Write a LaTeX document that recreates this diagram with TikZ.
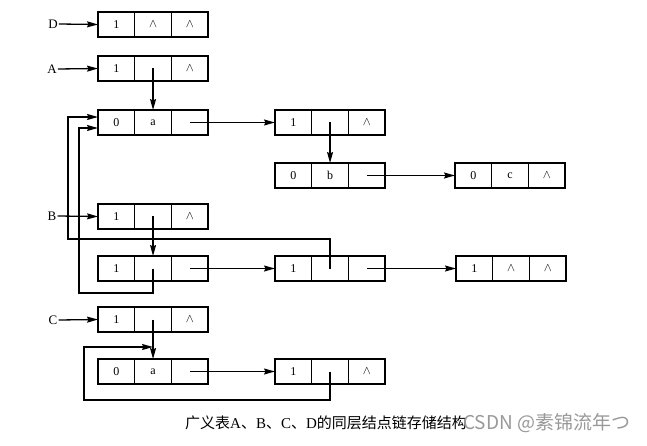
\documentclass[tikz,border=0pt]{standalone}
\usepackage{fontspec}
\setmainfont{Liberation Serif}
\newfontfamily\cjk{Noto Sans CJK SC}
\usetikzlibrary{arrows.meta,calc}
\newcommand\mkrec[6]{%
  \node[cell,anchor=north west] (#1-1) at (#2pt,-#3pt) {#4};
  \node[cell,anchor=west] (#1-2) at (#1-1.east) {#5};
  \node[cell,anchor=west] (#1-3) at (#1-2.east) {#6};
}
\newcommand\nil{\raisebox{0.5pt}{$\wedge$}}
\begin{document}
\begin{tikzpicture}[
  cell/.style={draw,line width=1.4pt,minimum width=36.7pt,minimum height=25pt,inner sep=0pt,outer sep=0pt,font=\fontsize{12}{13}\selectfont},
  lbl/.style={inner sep=1pt,font=\fontsize{13}{14}\selectfont},
  arr/.style={line width=1.3pt,-{Stealth[length=11pt,width=6pt,inset=1.5pt]}},
  ln/.style={line width=1.3pt}
]
\useasboundingbox (0,0) rectangle (647pt,-446pt);
\fill[white] (0,0) rectangle (647pt,-446pt);

% records
\mkrec{R1}{98}{12}{1}{\nil}{\nil}
\mkrec{R2}{98}{56}{1}{}{\nil}
\mkrec{R3}{98}{110}{0}{a}{}
\mkrec{R4}{275}{110}{1}{}{\nil}
\mkrec{R5}{275}{163}{0}{b}{}
\mkrec{R6}{455}{163}{0}{c}{\nil}
\mkrec{R7}{98}{204}{1}{}{\nil}
\mkrec{R8}{98}{256}{1}{}{}
\mkrec{R9}{275}{256}{1}{}{}
\mkrec{R10}{456}{256}{1}{\nil}{\nil}
\mkrec{R11}{98}{307}{1}{}{\nil}
\mkrec{R12}{98}{359}{0}{a}{}
\mkrec{R13}{275}{359}{1}{}{\nil}

% labels
\node[lbl] (D) at (53pt,-24pt) {D};
\node[lbl] (A) at (52pt,-69pt) {A};
\node[lbl] (B) at (52pt,-216pt) {B};
\node[lbl] (C) at (53pt,-320pt) {C};

\draw[arr] (D.east) -- (R1-1.west);
\draw[arr] (A.east) -- (R2-1.west);
\draw[arr] (B.east) -- (R7-1.west);
\draw[arr] (C.east) -- (R11-1.west);

% helper coordinates
\coordinate (L1) at (79pt,-293pt);
\coordinate (L2) at (68pt,-239pt);
\coordinate (L3) at (84pt,-400pt);
\coordinate (T1) at ($(R3-1.west)+(0,-5.5pt)$);
\coordinate (T2) at ($(R3-1.west)+(0,5.5pt)$);
\path (R11-2.center) ++(0,-27.5pt) coordinate (M);

% connectors
\draw[arr] (R2-2.center) -- (R3-2.north);
\draw[arr] (R3-3.center) -- (R4-1.west);
\draw[arr] (R4-2.center) -- (R5-2.north);
\draw[arr] (R5-3.center) -- (R6-1.west);
\draw[arr] (R7-2.center) -- (R8-2.north);
\draw[arr] (R8-3.center) -- (R9-1.west);
\draw[arr] (R9-3.center) -- (R10-1.west);
\draw[arr] (R8-2.center) |- (L1) |- (T1);
\draw[arr] (R9-2.center) |- (L2) |- (T2);
\draw[arr] (R11-2.center) -- (R12-2.north);
\draw[arr] (R12-3.center) -- (R13-1.west);
\draw[arr] (R13-2.center) |- (L3) |- (M);

% caption
\node[anchor=west,inner sep=0pt,font=\fontsize{15}{17}\selectfont] (cap) at (185pt,-423pt)
  {{\cjk 广义表}A{\cjk 、}B{\cjk 、}C{\cjk 、}D{\cjk 的同层结点链存储结构}};
\node[anchor=west,inner sep=0pt,text=black!40,font=\cjk\fontsize{19}{21}\selectfont] (wm) at (463pt,-423pt)
  {CSDN @素锦流年つ};
\end{tikzpicture}
\end{document}
